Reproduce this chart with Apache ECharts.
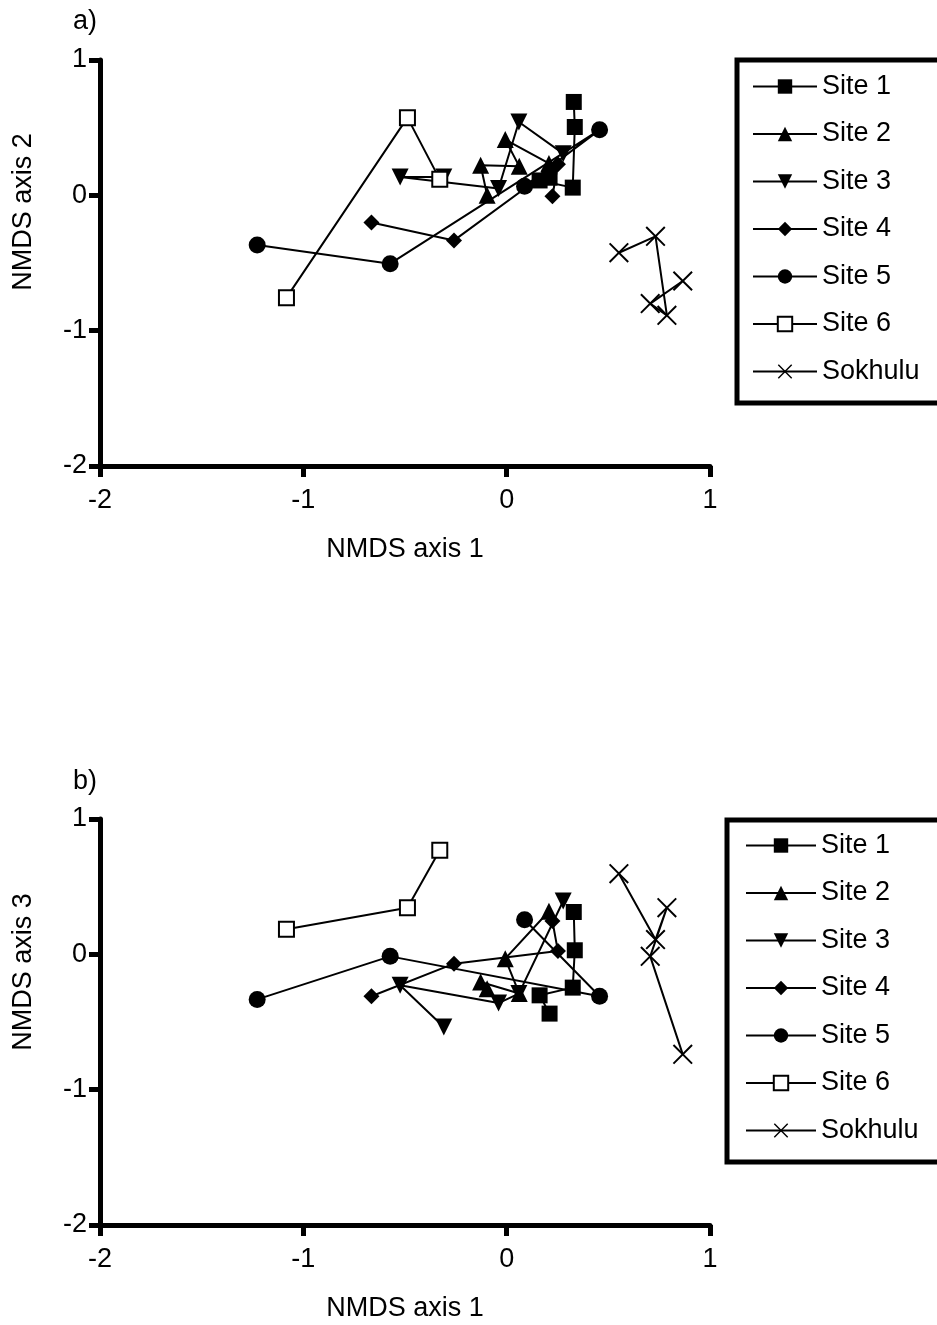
<!DOCTYPE html>
<html>
<head>
<meta charset="utf-8">
<script src="https://cdn.jsdelivr.net/npm/echarts@6/dist/echarts.min.js"></script>
<style>
  html, body { margin: 0; padding: 0; background: #fff; }
  #chart { width: 937px; height: 1325px; }
</style>
</head>
<body>
<div id="chart"></div>
<script>
// NMDS ordination, axis 1 shared by both panels; A = axis 2 (panel a), B = axis 3 (panel b)
const siteNames = ['Site 1', 'Site 2', 'Site 3', 'Site 4', 'Site 5', 'Site 6', 'Sokhulu'];

const site1X = [0.33, 0.335, 0.325, 0.162, 0.211];
const site1A = [0.69, 0.505, 0.057, 0.11, 0.13];
const site1B = [0.313, 0.03, -0.246, -0.303, -0.438];

const site2X = [0.208, -0.007, 0.062, -0.128, -0.096];
const site2A = [0.236, 0.412, 0.214, 0.222, 0.0];
const site2B = [0.318, -0.032, -0.29, -0.205, -0.254];

const site3X = [-0.309, -0.524, -0.04, 0.06, 0.278];
const site3A = [0.135, 0.135, 0.05, 0.542, 0.308];
const site3B = [-0.537, -0.229, -0.36, -0.29, 0.394];

const site4X = [-0.665, -0.259, 0.252, 0.225];
const site4A = [-0.2, -0.333, 0.23, -0.007];
const site4B = [-0.31, -0.069, 0.024, 0.246];

const site5X = [-1.227, -0.573, 0.457, 0.088];
const site5A = [-0.367, -0.505, 0.484, 0.067];
const site5B = [-0.333, -0.015, -0.31, 0.256];

const site6X = [-1.083, -0.488, -0.329];
const site6A = [-0.756, 0.574, 0.118];
const site6B = [0.185, 0.345, 0.769];

const sokX = [0.552, 0.732, 0.788, 0.706, 0.866];
const sokA = [-0.424, -0.303, -0.887, -0.8, -0.633];
const sokB = [0.596, 0.109, 0.345, -0.015, -0.739];

const axisTicks = [-2, -1, 0, 1];

const FONT = '"Liberation Sans", Arial, sans-serif';
const INV_TRI = 'path://M0,0L10,0L5,9Z';
const CROSS = 'path://M0,0.7L0.7,0L10,9.3L9.3,10Z M9.3,0L10,0.7L0.7,10L0,9.3Z';

const styles = {
  'Site 1': { symbol: 'rect', size: 16, fill: '#000', border: 0 },
  'Site 2': { symbol: 'triangle', size: 17, fill: '#000', border: 0 },
  'Site 3': { symbol: INV_TRI, size: 17, fill: '#000', border: 0 },
  'Site 4': { symbol: 'diamond', size: 16, fill: '#000', border: 0 },
  'Site 5': { symbol: 'circle', size: 17, fill: '#000', border: 0 },
  'Site 6': { symbol: 'rect', size: 15, fill: '#fff', border: 2 },
  'Sokhulu': { symbol: CROSS, size: 20, fill: '#000', border: 0 }
};

const panelA = [[site1X, site1A], [site2X, site2A], [site3X, site3A], [site4X, site4A],
                [site5X, site5A], [site6X, site6A], [sokX, sokA]];
const panelB = [[site1X, site1B], [site2X, site2B], [site3X, site3B], [site4X, site4B],
                [site5X, site5B], [site6X, site6B], [sokX, sokB]];

function makeSeries(name, xs, ys, gi) {
  const st = styles[name];
  return {
    name: name, type: 'line', xAxisIndex: gi, yAxisIndex: gi,
    data: xs.map((x, i) => [x, ys[i]]),
    symbol: st.symbol, symbolSize: st.size,
    showSymbol: true, showAllSymbol: true,
    lineStyle: { color: '#000', width: 2 },
    itemStyle: { color: st.fill, borderColor: '#000', borderWidth: st.border },
    emphasis: { disabled: true },
    silent: true
  };
}

function xAxisFor(gi) {
  return {
    gridIndex: gi, type: 'value', min: axisTicks[0], max: axisTicks[axisTicks.length - 1], interval: 1,
    axisLine: { show: true, onZero: false, lineStyle: { color: '#000', width: 5 } },
    axisTick: { show: true, length: 11, lineStyle: { color: '#000', width: 5 } },
    axisLabel: { color: '#000', fontSize: 27, fontFamily: FONT, margin: 21 },
    splitLine: { show: false },
    name: 'NMDS axis 1', nameLocation: 'middle', nameGap: 70,
    nameTextStyle: { color: '#000', fontSize: 27, fontFamily: FONT }
  };
}

function yAxisFor(gi) {
  return {
    gridIndex: gi, type: 'value', min: axisTicks[0], max: axisTicks[axisTicks.length - 1], interval: 1,
    axisLine: { show: true, onZero: false, lineStyle: { color: '#000', width: 5 } },
    axisTick: { show: true, length: 11, lineStyle: { color: '#000', width: 5 } },
    axisLabel: { color: '#000', fontSize: 27, fontFamily: FONT, margin: 13 },
    splitLine: { show: false }
  };
}

function legendFor(left, top, padding, itemWidth) {
  return {
    data: siteNames, orient: 'vertical', left: left, top: top,
    padding: padding, itemWidth: itemWidth, itemHeight: 18, itemGap: 20.5,
    borderColor: '#000', borderWidth: 5, backgroundColor: '#fff',
    selectedMode: false,
    lineStyle: { width: 2 },
    textStyle: { color: '#000', fontSize: 27, fontFamily: FONT }
  };
}

function label(text, x, y, rot) {
  return {
    type: 'text', x: x, y: y, rotation: rot || 0, silent: true,
    style: { text: text, fill: '#000', font: '27px ' + FONT,
             align: 'center', verticalAlign: 'middle',
             textAlign: 'center', textVerticalAlign: 'middle' }
  };
}

const series = [];
siteNames.forEach((n, i) => series.push(makeSeries(n, panelA[i][0], panelA[i][1], 0)));
siteNames.forEach((n, i) => series.push(makeSeries(n, panelB[i][0], panelB[i][1], 1)));

const chart = echarts.init(document.getElementById('chart'), null, { renderer: 'canvas' });
chart.setOption({
  animation: false,
  backgroundColor: '#fff',
  grid: [
    { left: 100, top: 60, width: 610, height: 406 },
    { left: 100, top: 819, width: 610, height: 406 }
  ],
  xAxis: [xAxisFor(0), xAxisFor(1)],
  yAxis: [yAxisFor(0), yAxisFor(1)],
  legend: [
    legendFor(737, 60, [13, 80, 18, 15], 64),
    legendFor(727, 820, [12, 80, 18, 18], 70)
  ],
  graphic: [
    label('a)', 85, 22),
    label('b)', 85, 782),
    label('NMDS axis 2', 24, 212, Math.PI / 2),
    label('NMDS axis 3', 24, 972, Math.PI / 2)
  ],
  series: series
});
</script>
</body>
</html>
